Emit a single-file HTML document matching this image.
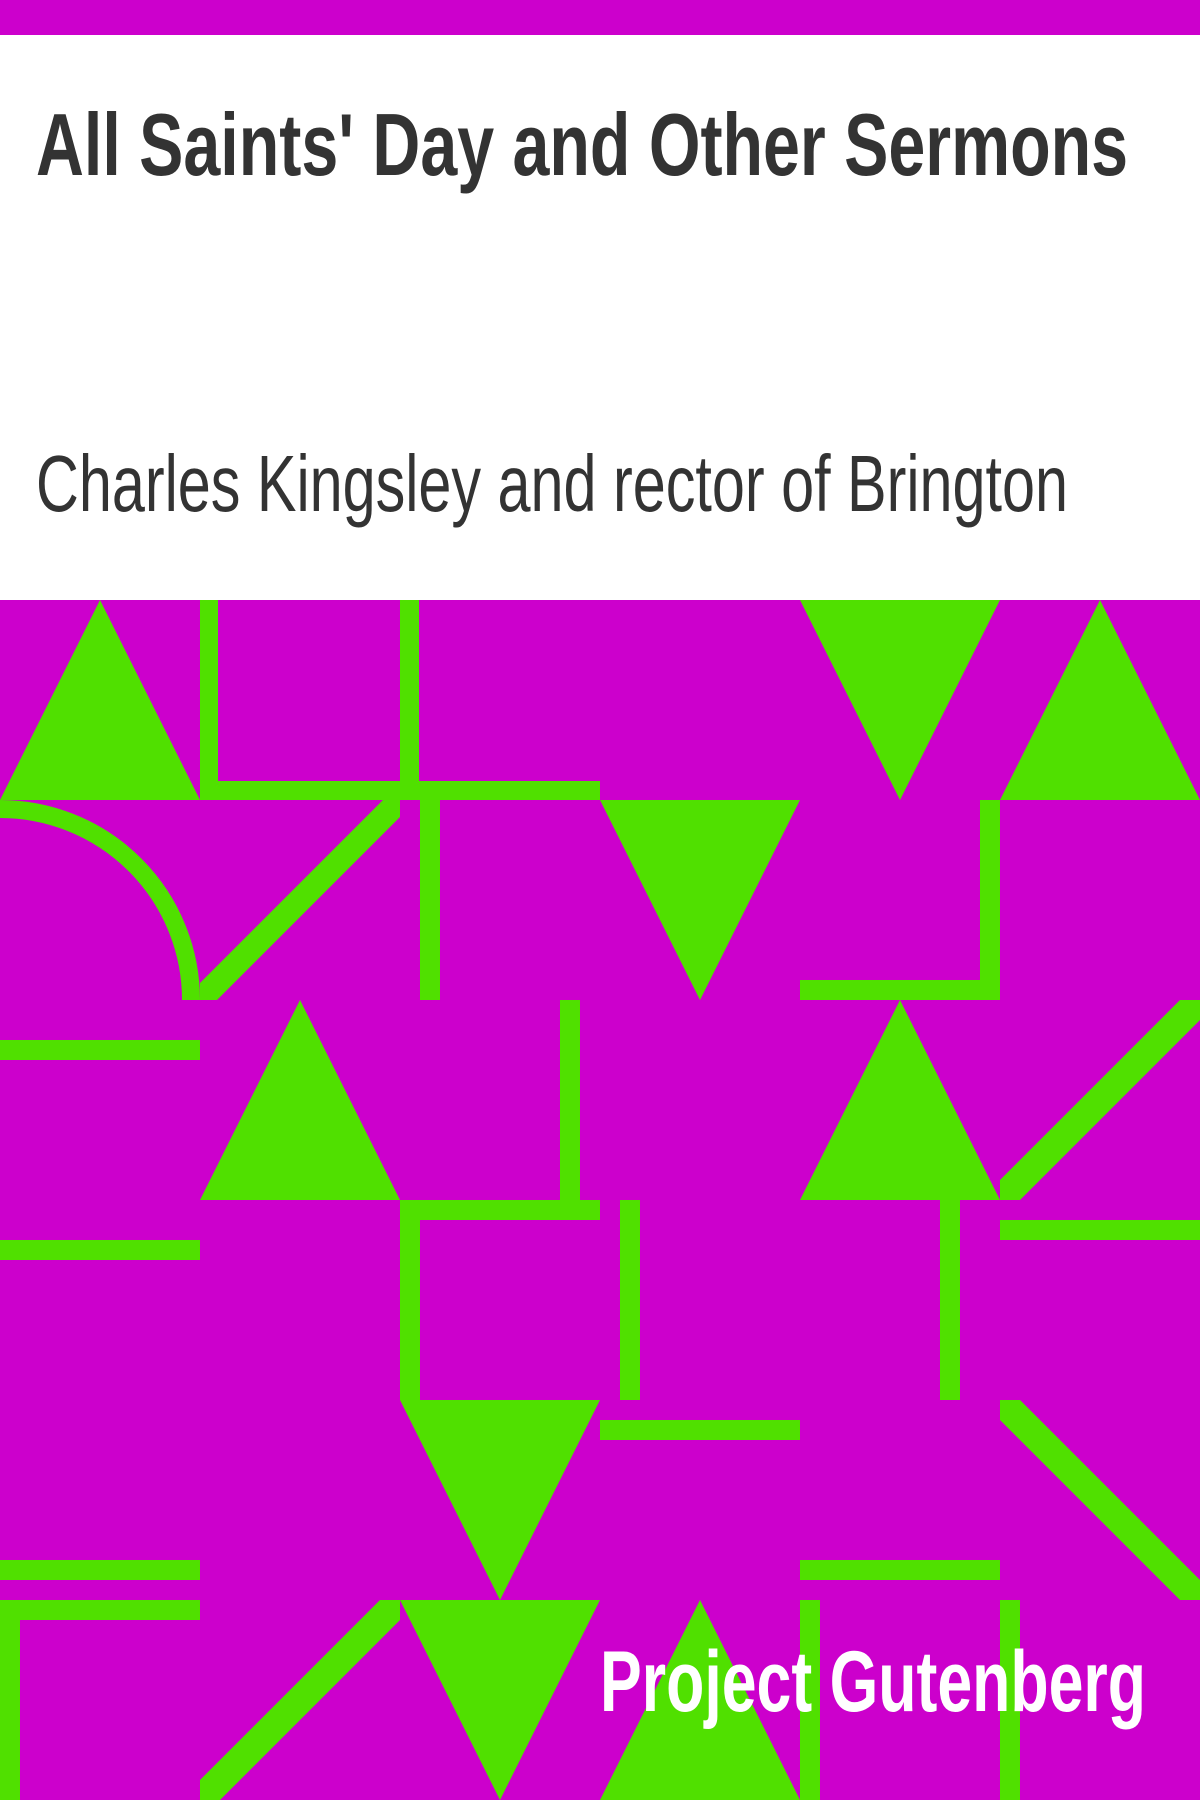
<!DOCTYPE html>
<html><head><meta charset="utf-8"><style>
html,body{margin:0;padding:0;width:1200px;height:1800px;overflow:hidden;background:#fff}
svg{display:block}
</style></head><body>
<svg width="1200" height="1800" viewBox="0 0 1200 1800">
<rect x="0" y="0" width="1200" height="35" fill="#CC00CC"/>
<text x="36" y="175" font-family="Liberation Sans, sans-serif" font-weight="bold" font-size="88" fill="#333" textLength="1092" lengthAdjust="spacingAndGlyphs">All Saints' Day and Other Sermons</text>
<text x="36" y="511" font-family="Liberation Sans, sans-serif" font-size="80" fill="#333" textLength="1032" lengthAdjust="spacingAndGlyphs">Charles Kingsley and rector of Brington</text>
<g fill="#50E000">
<rect x="0" y="600" width="1200" height="1200" fill="#CC00CC"/>
<polygon points="100,600 0,800 200,800"/>
<rect x="200" y="600" width="18" height="200"/>
<rect x="200" y="781" width="400" height="19"/>
<rect x="400" y="600" width="19" height="200"/>
<polygon points="800,600 1000,600 900,800"/>
<polygon points="1100,600 1000,800 1200,800"/>
<path d="M0,809 A191,191 0 0 1 191,1000" fill="none" stroke="#50E000" stroke-width="18"/>
<polygon points="200,983 383,800 400,800 400,817 217,1000 200,1000"/>
<rect x="420" y="800" width="20" height="200"/>
<polygon points="600,800 800,800 700,1000"/>
<rect x="980" y="800" width="20" height="200"/>
<rect x="800" y="980" width="200" height="20"/>
<rect x="0" y="1040" width="200" height="20"/>
<polygon points="300,1000 200,1200 400,1200"/>
<rect x="560" y="1000" width="20" height="200"/>
<rect x="400" y="1200" width="200" height="20"/>
<polygon points="900,1000 800,1200 1000,1200"/>
<polygon points="1000,1180 1180,1000 1200,1000 1200,1020 1020,1200 1000,1200"/>
<rect x="0" y="1240" width="200" height="20"/>
<rect x="400" y="1200" width="20" height="200"/>
<rect x="620" y="1200" width="20" height="200"/>
<rect x="940" y="1200" width="20" height="200"/>
<rect x="1000" y="1220" width="200" height="20"/>
<polygon points="400,1400 600,1400 500,1600"/>
<rect x="600" y="1420" width="200" height="20"/>
<polygon points="1000,1400 1020,1400 1200,1580 1200,1600 1180,1600 1000,1420"/>
<rect x="0" y="1560" width="200" height="20"/>
<rect x="800" y="1560" width="200" height="20"/>
<rect x="0" y="1600" width="200" height="20"/>
<rect x="0" y="1600" width="20" height="200"/>
<polygon points="200,1780 380,1600 400,1600 400,1620 220,1800 200,1800"/>
<polygon points="400,1600 600,1600 500,1800"/>
<polygon points="700,1600 600,1800 800,1800"/>
<rect x="800" y="1600" width="20" height="200"/>
<rect x="1000" y="1600" width="20" height="200"/>
</g>
<text x="600" y="1711" font-family="Liberation Sans, sans-serif" font-weight="bold" font-size="86" fill="#fff" textLength="546" lengthAdjust="spacingAndGlyphs">Project Gutenberg</text>
</svg>
</body></html>
